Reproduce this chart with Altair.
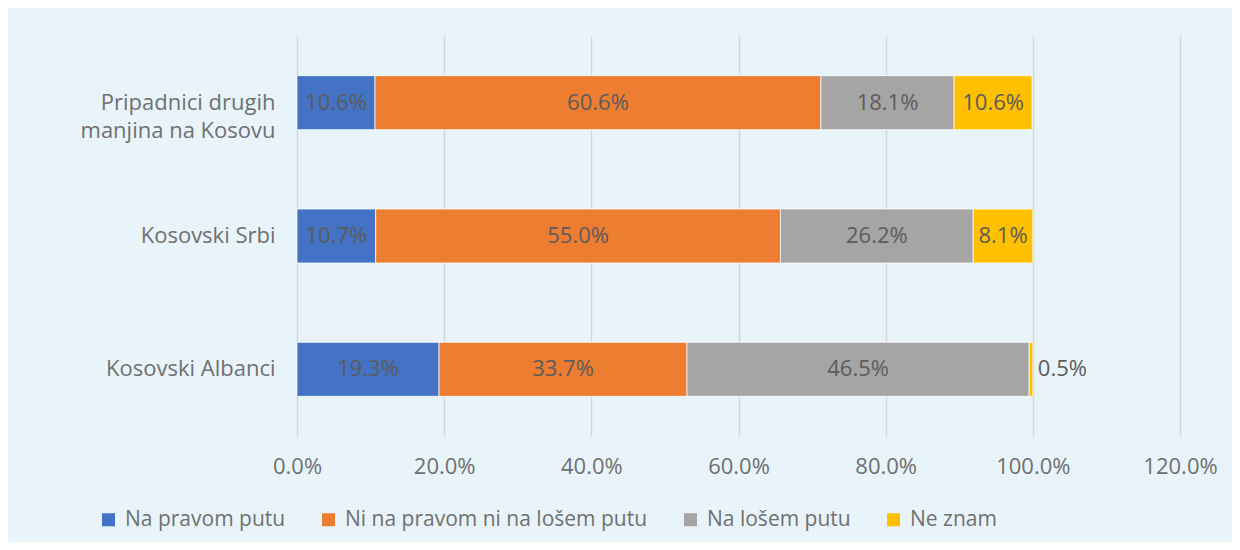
import altair as alt
import pandas as pd

groups = ["Pripadnici drugih manjina na Kosovu", "Kosovski Srbi", "Kosovski Albanci"]
categories = ["Na pravom putu", "Ni na pravom ni na lošem putu", "Na lošem putu", "Ne znam"]
colors = ["#4472C4", "#ED7D31", "#A5A5A5", "#FFC000"]
na_pravom = [10.6, 10.7, 19.3]
ni_ni = [60.6, 55.0, 33.7]
na_losem = [18.1, 26.2, 46.5]
ne_znam = [10.6, 8.1, 0.5]
x_ticks = [0, 20, 40, 60, 80, 100, 120]

series = [na_pravom, ni_ni, na_losem, ne_znam]
rows = []
for ci, (cat, vals) in enumerate(zip(categories, series)):
    for g, v in zip(groups, vals):
        rows.append({"group": g, "cat": cat, "order": ci, "value": v})
df = pd.DataFrame(rows)

FONT = "Open Sans"
GRAY = "#707070"
LBL = "#5c5c5c"

base = alt.Chart(df).transform_stack(
    stack="value", groupby=["group"], as_=["v0", "v1"],
    sort=[alt.SortField("order", order="ascending")]
).transform_calculate(
    mid="(datum.v0 + datum.v1) / 2",
    lbl="format(datum.value, '.1f') + '%'"
)

y_enc = alt.Y(
    "group:N", sort=groups, title=None,
    axis=alt.Axis(
        ticks=False, domain=False, grid=False, labelPadding=22,
        labelFontSize=22, labelFont=FONT, labelColor=GRAY, labelLineHeight=28,
        labelLimit=400,
        labelExpr="datum.label == 'Pripadnici drugih manjina na Kosovu' ? ['Pripadnici drugih', 'manjina na Kosovu'] : datum.label",
    ),
)
x_scale = alt.Scale(domain=[0, 120], nice=False)

bars = base.mark_bar(size=54, stroke="#ffffff", strokeWidth=0.75).encode(
    x=alt.X(
        "v0:Q", scale=x_scale, title=None,
        axis=alt.Axis(
            values=x_ticks, ticks=False, domain=False, grid=True,
            gridColor="#d6d6d6", gridWidth=1.5, labelFlush=False,
            labelExpr="format(datum.value, '.1f') + '%'",
            labelPadding=20, labelFontSize=22, labelFont=FONT, labelColor=GRAY,
        ),
    ),
    x2="v1:Q",
    y=y_enc,
    color=alt.Color(
        "cat:N",
        scale=alt.Scale(domain=categories, range=colors),
        sort=categories,
        legend=alt.Legend(
            title=None, orient="none", direction="horizontal",
            legendX=-199, legendY=473,
            symbolType="square", symbolSize=169, symbolStrokeWidth=0,
            labelFontSize=21, labelFont=FONT, labelColor=GRAY,
            labelOffset=6, columnPadding=32, labelLimit=400,
        ),
    ),
    order=alt.Order("order:Q"),
)

inside = base.transform_filter("datum.value >= 2").mark_text(
    fontSize=22, font=FONT, color=LBL, align="center", baseline="middle"
).encode(
    x=alt.X("mid:Q", scale=x_scale),
    y=alt.Y("group:N", sort=groups),
    text="lbl:N",
)

outside = base.transform_filter("datum.value < 2").mark_text(
    fontSize=22, font=FONT, color=LBL, align="left", baseline="middle", dx=5
).encode(
    x=alt.X("v1:Q", scale=x_scale),
    y=alt.Y("group:N", sort=groups),
    text="lbl:N",
)

chart = alt.layer(bars, inside, outside).properties(
    width=883, height=400,
    background="#e8f4fa",
    autosize=alt.AutoSizeParams(type="none"),
    padding={"left": 289, "top": 28, "right": 52, "bottom": 106},
).configure_view(stroke=None)

chart.save("out.html", embed_options={"renderer": "svg", "actions": False})
